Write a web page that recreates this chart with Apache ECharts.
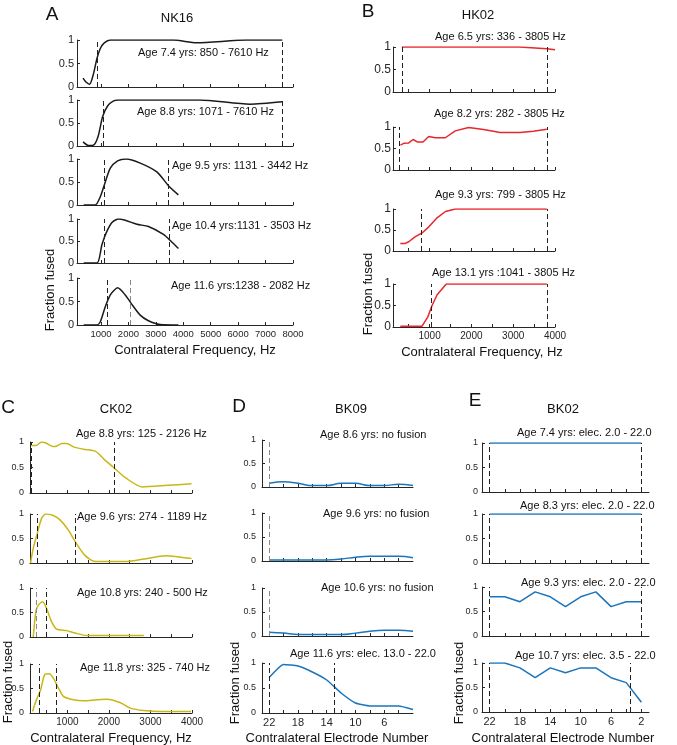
<!DOCTYPE html>
<html><head><meta charset="utf-8">
<script src="https://cdn.jsdelivr.net/npm/echarts@6/dist/echarts.min.js"></script>
<style>html,body{margin:0;padding:0;background:#fff}#c{width:677px;height:745px}</style>
</head><body><div id="c"></div>
<script>
// ---------- DATA ----------
// Panel A: NK16 (Hz, fraction fused)
const nk16_74 = [[345,0.19],[460,0.1],[586,0.06],[730,0.29],[853,0.61],[975,0.82],[1120,0.94],[1338,1],[3640,1],[4490,0.94],[6310,1],[7610,1]];
const nk16_88 = [[345,0.09],[550,0.01],[730,0.02],[890,0.2],[1060,0.64],[1240,0.87],[1460,0.98],[1640,1],[4610,1],[6430,0.91],[7610,0.96]];
const nk16_95 = [[370,0],[790,0],[975,0.18],[1156,0.5],[1340,0.8],[1605,0.96],[1920,1],[2430,0.91],[3036,0.72],[3460,0.42],[3820,0.22]];
const nk16_104 = [[370,0],[850,0],[1036,0.42],[1193,0.69],[1400,0.92],[1640,1],[1884,0.97],[2310,0.88],[2730,0.83],[3277,0.65],[3545,0.5],[3822,0.33]];
const nk16_116 = [[370,0],[850,0],[975,0.07],[1156,0.39],[1340,0.64],[1480,0.74],[1605,0.79],[1884,0.64],[2100,0.46],[2430,0.21],[2730,0.09],[3156,0.01],[3822,0]];
// Panel B: HK02
const hk02_65 = [[336,1],[1000,1],[2000,1],[3150,1],[3805,0.96],[4000,0.94]];
const hk02_82 = [[302,0.58],[382,0.62],[501,0.63],[605,0.71],[716,0.65],[843,0.65],[979,0.78],[1138,0.75],[1376,0.75],[1615,0.91],[1933,0.99],[2291,0.94],[2689,0.87],[3166,0.87],[3484,0.9],[3803,0.95]];
const hk02_93 = [[300,0.18],[420,0.18],[500,0.22],[660,0.34],[820,0.43],[955,0.55],[1180,0.79],[1380,0.94],[1615,1],[3805,1]];
const hk02_131 = [[300,0.02],[820,0.02],[955,0.23],[1060,0.5],[1180,0.75],[1400,1],[3805,1]];
// Panel C: CK02
const ck02_88 = [[125,0.93],[242,0.93],[380,1],[484,0.98],[622,0.92],[702,0.91],[864,0.97],[985,0.97],[1162,0.9],[1388,0.86],[1670,0.82],[1872,0.67],[2114,0.5],[2397,0.3],[2800,0.12],[3407,0.15],[3988,0.18]];
const ck02_96 = [[113,0],[178,0.3],[274,0.6],[379,0.91],[484,1],[662,0.97],[823,0.88],[1025,0.67],[1186,0.44],[1429,0.15],[1671,0.03],[2438,0.03],[2841,0.08],[3366,0.15],[3988,0.09]];
const ck02_108 = [[178,0],[242,0.52],[299,0.65],[403,0.72],[500,0.58],[621,0.31],[742,0.16],[985,0.13],[1186,0.08],[1469,0.03],[2841,0.03]];
const ck02_118 = [[162,0.03],[242,0.24],[355,0.47],[460,0.79],[565,0.8],[662,0.71],[783,0.51],[904,0.34],[1146,0.27],[1388,0.25],[1711,0.27],[1953,0.28],[2276,0.21],[2518,0.1],[2840,0.05],[3240,0.03],[3977,0.03]];
// Panels D, E: electrode number vs fraction fused
const electrodes = [22,20,18,16,14,12,10,8,6,4,2];
const bk09_86 = [0.08,0.11,0.08,0.03,0.03,0.08,0.08,0.03,0.03,0.06,0.03];
const bk09_96 = [0.02,0.02,0.02,0.02,0.02,0.04,0.08,0.1,0.1,0.1,0.07];
const bk09_106 = [0.08,0.06,0.03,0.03,0.03,0.03,0.06,0.1,0.12,0.12,0.1];
const bk09_116 = [0.71,0.97,0.94,0.82,0.66,0.4,0.2,0.14,0.14,0.14,0.07];
const bk02_74 = [1,1,1,1,1,1,1,1,1,1,1];
const bk02_83 = [1,1,1,1,1,1,1,1,1,1,1];
const bk02_93 = [0.8,0.8,0.7,0.9,0.8,0.6,0.8,0.9,0.6,0.7,0.7];
const bk02_107 = [1,1,0.9,0.7,0.9,0.8,0.9,0.9,0.7,0.6,0.2];
// Tick values / labels
const ticksA = [1000,2000,3000,4000,5000,6000,7000,8000];
const labelsA = [1000,2000,3000,4000,5000,6000,7000,8000];
const ticksB = [500,1000,1500,2000,2500,3000,3500,4000];
const labelsB = [1000,2000,3000,4000];
const ticksC = [500,1000,1500,2000,2500,3000,3500,4000];
const labelsC = [1000,2000,3000,4000];
const ticksD = [22,20,18,16,14,12,10,8,6,4];
const labelsD = [22,18,14,10,6];
const ticksE = [22,20,18,16,14,12,10,8,6,4,2];
const labelsE = [22,18,14,10,6,2];
// Fusion range limits (dashed lines)
const rangeA = [[850,7610],[1071,7610],[1131,3442],[1131,3503],[1238,2082]];
const rangeB = [[336,3805],[282,3805],[799,3805],[1041,3805]];
const rangeC = [[125,2126],[274,1189],[240,500],[325,740]];
const rangeD = [[22],[22],[22],[22,13]];
const rangeE = [[22,2],[22,2],[22,2],[22,3.5]];
const textA = ['Age 7.4 yrs: 850 - 7610 Hz','Age 8.8 yrs: 1071 - 7610 Hz','Age 9.5 yrs: 1131 - 3442 Hz','Age 10.4 yrs:1131 - 3503 Hz','Age 11.6 yrs:1238 - 2082 Hz'];
const textB = ['Age 6.5 yrs: 336 - 3805 Hz','Age 8.2 yrs: 282 - 3805 Hz','Age 9.3 yrs: 799 - 3805 Hz','Age 13.1 yrs :1041 - 3805 Hz'];
const textC = ['Age 8.8 yrs: 125 - 2126 Hz','Age 9.6 yrs: 274 - 1189 Hz','Age 10.8 yrs: 240 - 500 Hz','Age 11.8 yrs: 325 - 740 Hz'];
const textD = ['Age 8.6 yrs: no fusion','Age 9.6 yrs: no fusion','Age 10.6 yrs: no fusion','Age 11.6 yrs: elec. 13.0 - 22.0'];
const textE = ['Age 7.4 yrs: elec. 2.0 - 22.0','Age 8.3 yrs: elec. 2.0 - 22.0','Age 9.3 yrs: elec. 2.0 - 22.0','Age 10.7 yrs: elec. 3.5 - 22.0'];

// ---------- LAYOUT ----------
const FONT = '"Liberation Sans", Arial, Helvetica, sans-serif';
const INK = '#262626';
const grids=[], xAxes=[], yAxes=[], series=[], graphics=[];
const pair = (xs, ys) => xs.map((x,i)=>[x, ys[i]]);

function addSub(o){
  const i = grids.length;
  grids.push({left:o.left, top:o.top, width:o.width, height:o.height});
  xAxes.push({type:'value', gridIndex:i, min:o.xmin, max:o.xmax, inverse:!!o.inverse,
    axisLine:{show:true, onZero:false, lineStyle:{color:INK, width:1}},
    axisTick:{show:true, inside:true, length:3, customValues:o.ticks, lineStyle:{color:INK, width:1}},
    axisLabel:{show:!!o.showLabels, customValues:o.labels, formatter:v=>String(v), fontSize:o.xls, color:INK, fontFamily:FONT, margin:4},
    splitLine:{show:false}});
  yAxes.push({type:'value', gridIndex:i, min:0, max:1, interval:0.5,
    axisLine:{show:true, onZero:false, lineStyle:{color:INK, width:1}},
    axisTick:{show:true, inside:true, length:3, lineStyle:{color:INK, width:1}},
    axisLabel:{fontSize:o.yls, color:INK, fontFamily:FONT, margin:o.ylm},
    splitLine:{show:false}});
  series.push({type:'line', xAxisIndex:i, yAxisIndex:i, data:o.data, symbol:'none', showSymbol:false,
    smooth:o.smooth||false, lineStyle:{color:o.color, width:1.5}, z:3, animation:false,
    markLine:{silent:true, symbol:['none','none'], label:{show:false}, animation:false,
      data:o.lines.map((v,k)=>({xAxis:v, lineStyle:{color:(o.grey&&o.grey[k])?'#888':'#222', type:[5,3], width:1}}))}});
  graphics.push({type:'text', x:o.tx, y:o.ty, style:{text:o.text, fontSize:11, fontFamily:FONT, fill:'#111',
    align:'left', textAlign:'left', verticalAlign:'middle', textVerticalAlign:'middle'}});
}

// A
const aTops=[40,100,159,219,278], aH=[47,46,46,44,47];
const aData=[nk16_74,nk16_88,nk16_95,nk16_104,nk16_116];
const aTx=[138,137,172,172,171], aTy=[53,112,166,226,286];
for(let k=0;k<5;k++) addSub({left:77, top:aTops[k], width:216, height:aH[k], xmin:125, xmax:8000,
  ticks:ticksA, labels:labelsA, showLabels:k===4, xls:9.5, yls:11, ylm:3, data:aData[k], color:'#1a1a1a', smooth:0.25,
  lines:rangeA[k], grey:k===4?[false,true]:null, text:textA[k], tx:aTx[k], ty:aTy[k]});
// B
const bTops=[47,127,209,284], bH=[45,43,42,43];
const bData=[hk02_65,hk02_82,hk02_93,hk02_131];
const bTx=[435,434,435,432], bTy=[37,114,195,273];
for(let k=0;k<4;k++) addSub({left:393, top:bTops[k], width:162, height:bH[k], xmin:125, xmax:4000,
  ticks:ticksB, labels:labelsB, showLabels:k===3, xls:10, yls:12, ylm:2, data:bData[k], color:'#e8262b',
  lines:rangeB[k], text:textB[k], tx:bTx[k], ty:bTy[k]});
// C
const cTops=[442,514,588,664], cH=[51,49,49,49];
const cData=[ck02_88,ck02_96,ck02_108,ck02_118];
const cTx=[76,77,77,80], cTy=[434,517,593,668];
for(let k=0;k<4;k++) addSub({left:30, top:cTops[k], width:162, height:cH[k], xmin:100, xmax:4000,
  ticks:ticksC, labels:labelsC, showLabels:k===3, xls:10, yls:9, ylm:6, data:cData[k], color:'#c8b716', smooth:0.25,
  lines:rangeC[k], grey:k===2?[true,false]:null, text:textC[k], tx:cTx[k], ty:cTy[k]});
// D
const dTops=[440,513,588,663], dH=[47,48,48,50];
const dData=[bk09_86,bk09_96,bk09_106,bk09_116];
const dTx=[320,323,321,290], dTy=[435,514,588,654];
for(let k=0;k<4;k++) addSub({left:262, top:dTops[k], width:151, height:dH[k], xmin:2, xmax:23, inverse:true,
  ticks:ticksD, labels:labelsD, showLabels:k===3, xls:11, yls:9, ylm:6, data:pair(electrodes,dData[k]), color:'#1a75bc', smooth:k<3?0.4:0.15,
  lines:rangeD[k], grey:k<3?[true]:null, text:textD[k], tx:dTx[k], ty:dTy[k]});
// E
const eTops=[443,514,587,663], eH=[49,49,49,49];
const eData=[bk02_74,bk02_83,bk02_93,bk02_107];
const eTx=[517,520,521,515], eTy=[433,506,583,656];
for(let k=0;k<4;k++) addSub({left:482, top:eTops[k], width:167, height:eH[k], xmin:1, xmax:23, inverse:true,
  ticks:ticksE, labels:labelsE, showLabels:k===3, xls:11, yls:9, ylm:4, data:pair(electrodes,eData[k]), color:'#1a75bc',
  lines:rangeE[k], text:textE[k], tx:eTx[k], ty:eTy[k]});

function txt(s, x, y, size, rot){
  graphics.push({type:'text', x:x, y:y, rotation:rot||0, style:{text:s, fontSize:size, fontFamily:FONT, fill:'#111',
    align:'center', textAlign:'center', verticalAlign:'middle', textVerticalAlign:'middle'}});
}
// panel letters & titles
txt('A',52,15,19); txt('B',368,12,19); txt('C',8,408,19); txt('D',239,407,19); txt('E',475,401,19);
txt('NK16',177,18,13); txt('HK02',478,15,13); txt('CK02',116,409,13); txt('BK09',351,409,13); txt('BK02',563,409,13);
// axis titles
txt('Contralateral Frequency, Hz',195,350,13); txt('Contralateral Frequency, Hz',482,352,13);
txt('Contralateral Frequency, Hz',111,738,13); txt('Contralateral Electrode Number',337,738,13);
txt('Contralateral Electrode Number',563,738,13);
txt('Fraction fused',50,290,13,Math.PI/2); txt('Fraction fused',368,294,13,Math.PI/2);
txt('Fraction fused',8,682,13,Math.PI/2); txt('Fraction fused',235,683,13,Math.PI/2);
txt('Fraction fused',459,683,13,Math.PI/2);

const chart = echarts.init(document.getElementById('c'), null, {renderer:'canvas'});
chart.setOption({animation:false, backgroundColor:'#fff', grid:grids, xAxis:xAxes, yAxis:yAxes, series:series, graphic:graphics});
</script></body></html>
